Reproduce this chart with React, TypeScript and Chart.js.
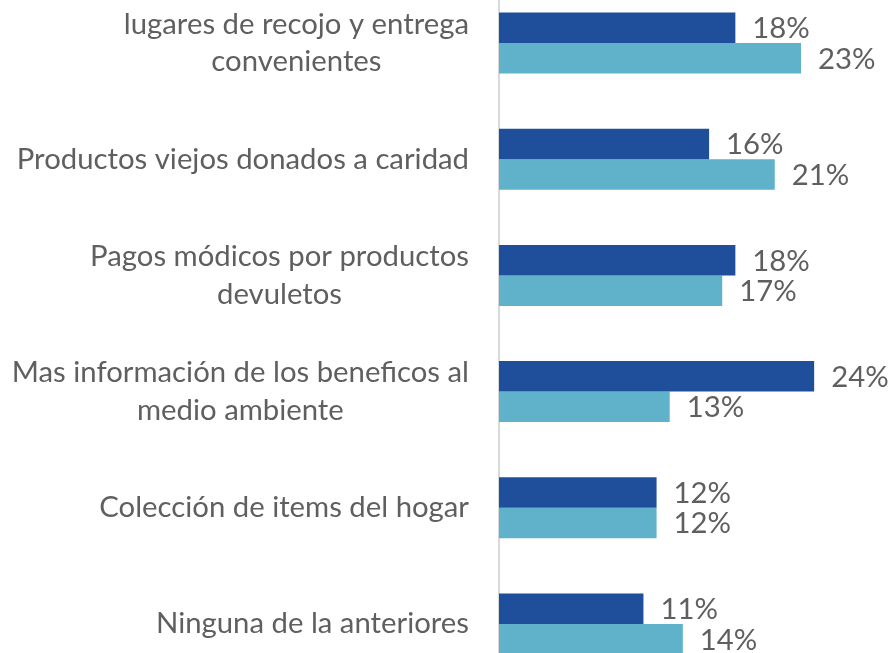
import React, { useEffect, useRef } from "react";
import { Chart, registerables } from "chart.js";

Chart.register(...registerables);

const categories: string[][] = [
  ["lugares de recojo y entrega", "convenientes"],
  ["Productos viejos donados a caridad"],
  ["Pagos módicos por productos", "devuletos"],
  ["Mas información de los beneficos al", "medio ambiente"],
  ["Colección de items del hogar"],
  ["Ninguna de la anteriores"],
];
const seriesA: number[] = [18, 16, 18, 24, 12, 11];
const seriesB: number[] = [23, 21, 17, 13, 12, 14];

const FONT = "400 29.3px Lato";
const TEXT_COLOR = "#5F5F5F";

const labelPlugin = {
  id: "customLabels",
  afterDraw(chart: any) {
    const ctx = chart.ctx;
    const yScale = chart.scales.y;
    ctx.save();
    ctx.font = FONT;
    ctx.fillStyle = TEXT_COLOR;
    ctx.textBaseline = "middle";
    ctx.textAlign = "center";
    const right = chart.chartArea.left - 30;
    const lineH = 37.5;
    categories.forEach((lines, i) => {
      const cy = yScale.getPixelForTick(i);
      const maxW = Math.max(...lines.map((l) => ctx.measureText(l).width));
      const cx = right - maxW / 2;
      const startY = cy - ((lines.length - 1) * lineH) / 2;
      lines.forEach((l, j) => ctx.fillText(l, cx, startY + j * lineH));
    });
    // data labels
    ctx.textAlign = "left";
    chart.data.datasets.forEach((ds: any, di: number) => {
      const meta = chart.getDatasetMeta(di);
      meta.data.forEach((bar: any, i: number) => {
        ctx.fillText(ds.data[i] + "%", bar.x + 17, bar.y + 1);
      });
    });
    ctx.restore();
  },
};

export default function App() {
  const ref = useRef<HTMLCanvasElement | null>(null);
  useEffect(() => {
    if (!ref.current) return;
    const chart = new Chart(ref.current, {
      type: "bar",
      data: {
        labels: categories.map((c) => c.join(" ")),
        datasets: [
          {
            data: seriesA,
            backgroundColor: "#1F4E9B",
            categoryPercentage: 0.525,
            barPercentage: 1,
          },
          {
            data: seriesB,
            backgroundColor: "#5FB2C9",
            categoryPercentage: 0.525,
            barPercentage: 1,
          },
        ],
      },
      options: {
        indexAxis: "y",
        responsive: false,
        animation: false,
        layout: { padding: { left: 499, right: 0, top: 0, bottom: 0 } },
        plugins: { legend: { display: false }, tooltip: { enabled: false } },
        scales: {
          x: { display: false, min: 0, max: 29.7 },
          y: {
            display: true,
            grid: { display: false },
            border: { display: true, color: "#D9D9D9", width: 2 },
            ticks: { display: false },
            afterFit: (s: any) => {
              s.width = 0;
            },
          },
        },
      },
      plugins: [labelPlugin],
    });
    return () => chart.destroy();
  }, []);
  return (
    <div
      style={{
        position: "fixed",
        left: 0,
        top: 0,
        width: "100vw",
        height: "100vh",
        overflow: "hidden",
        background: "#fff",
      }}
    >
      <canvas
        ref={ref}
        width={889}
        height={697}
        style={{ position: "absolute", left: 0, top: -15, width: 889, height: 697 }}
      />
    </div>
  );
}
